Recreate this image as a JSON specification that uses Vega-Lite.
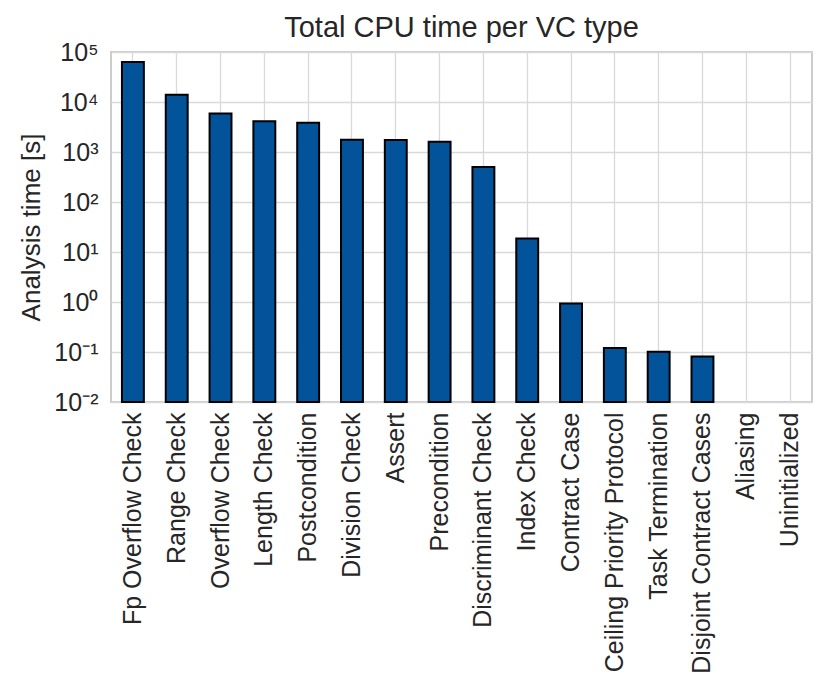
{
  "$schema": "https://vega.github.io/schema/vega-lite/v6.json",
  "width": 701,
  "height": 350,
  "autosize": {"type": "none"},
  "padding": {"left": 111, "top": 52, "right": 18, "bottom": 291},
  "background": "white",
  "title": {"text": "Total CPU time per VC type", "fontSize": 29, "font": "Liberation Sans", "fontWeight": "normal", "color": "#262626", "offset": -3},
  "data": {"values": [
    {"vc": "Fp Overflow Check", "time": 63000},
    {"vc": "Range Check", "time": 14000},
    {"vc": "Overflow Check", "time": 5900},
    {"vc": "Length Check", "time": 4100},
    {"vc": "Postcondition", "time": 3850},
    {"vc": "Division Check", "time": 1760},
    {"vc": "Assert", "time": 1740},
    {"vc": "Precondition", "time": 1610},
    {"vc": "Discriminant Check", "time": 500},
    {"vc": "Index Check", "time": 18.7},
    {"vc": "Contract Case", "time": 0.93},
    {"vc": "Ceiling Priority Protocol", "time": 0.12},
    {"vc": "Task Termination", "time": 0.101},
    {"vc": "Disjoint Contract Cases", "time": 0.081},
    {"vc": "Aliasing", "time": 0},
    {"vc": "Uninitialized", "time": 0}
  ]},
  "transform": [{"filter": "datum.time > 0"}],
  "mark": {"type": "bar", "fill": "#02539a", "stroke": "black", "strokeWidth": 2},
  "encoding": {
    "x": {
      "field": "vc", "type": "nominal", "sort": null,
      "scale": {"domain": ["Fp Overflow Check", "Range Check", "Overflow Check", "Length Check", "Postcondition", "Division Check", "Assert", "Precondition", "Discriminant Check", "Index Check", "Contract Case", "Ceiling Priority Protocol", "Task Termination", "Disjoint Contract Cases", "Aliasing", "Uninitialized"], "paddingInner": 0.5, "paddingOuter": 0.25},
      "axis": {"title": null, "labelAngle": -90, "labelFontSize": 25, "labelPadding": 10, "ticks": false, "domain": false, "grid": true, "bandPosition": 0.5, "labelLimit": 400}
    },
    "y": {
      "field": "time", "type": "quantitative",
      "scale": {"type": "log", "domain": [0.01, 100000]},
      "axis": {"title": "Analysis time [s]", "values": [0.01, 0.1, 1, 10, 100, 1000, 10000, 100000], "labelExpr": "'10' + ['⁻²','⁻¹','⁰','¹','²','³','⁴','⁵'][round(log(datum.value)/LN10)+2]", "ticks": false, "domain": false, "labelPadding": 13, "titlePadding": 9, "labelFontSize": 25, "titleFontSize": 26}
    },
    "y2": {"datum": 0.01}
  },
  "config": {
    "view": {"stroke": "#cccccc", "strokeWidth": 2},
    "axis": {"gridColor": "#d9d9d9", "gridWidth": 1.3, "labelColor": "#262626", "titleColor": "#262626", "labelFont": "Liberation Sans", "titleFont": "Liberation Sans", "titleFontWeight": "normal"}
  }
}
